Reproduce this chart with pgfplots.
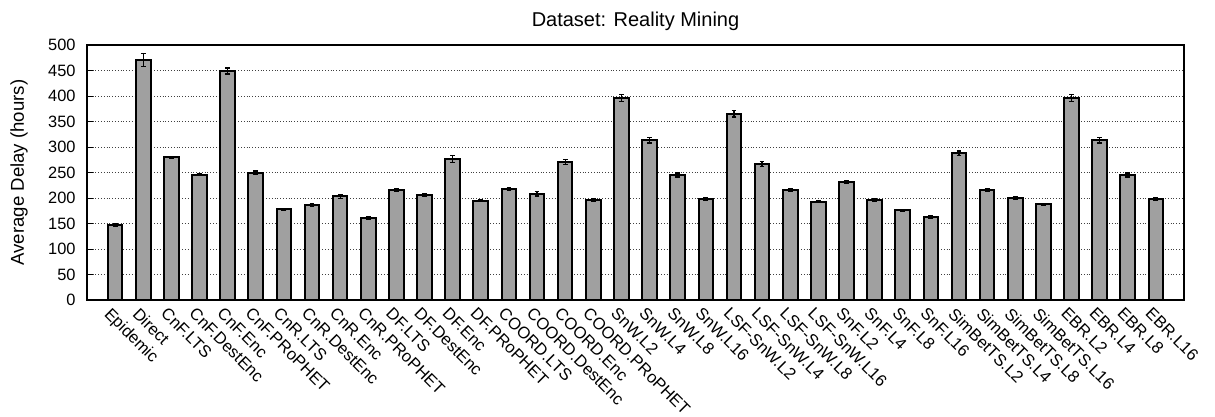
\documentclass[border=0pt]{standalone}
\usepackage{fontspec}
\setmainfont{Liberation Sans}
\usepackage{pgfplots}
\usepackage{pgfplotstable}
\pgfplotsset{compat=1.18}
\usetikzlibrary{calc}
\definecolor{barfill}{RGB}{160,160,160}

% Average delay per routing scheme, with the half-width of its error bar
\pgfplotstableread{
idx name delay err
1 Epidemic 147 2
2 Direct 471 13
3 CnF.LTS 280 2
4 CnF.DestEnc 246 2
5 CnF.Enc 449 6
6 CnF.PRoPHET 250 3
7 CnR.LTS 178 2
8 CnR.DestEnc 186 3
9 CnR.Enc 203 4
10 CnR.PRoPHET 161 2
11 DF.LTS 215 3
12 DF.DestEnc 206 3
13 DF.Enc 277 7
14 DF.PRoPHET 195 2
15 COORD.LTS 218 3
16 COORD.DestEnc 208 4
17 COORD.Enc 271 5
18 COORD.PRoPHET 196 3
19 SnW.L2 396 7
20 SnW.L4 313 5
21 SnW.L8 245 4
22 SnW.L16 198 3
23 LSF-SnW.L2 365 6
24 LSF-SnW.L4 267 5
25 LSF-SnW.L8 215 3
26 LSF-SnW.L16 193 2
27 SnF.L2 231 3
28 SnF.L4 196 3
29 SnF.L8 176 2
30 SnF.L16 163 3
31 SimBetTS.L2 288 4
32 SimBetTS.L4 216 3
33 SimBetTS.L8 200 3
34 SimBetTS.L16 188 2
35 EBR.L2 396 7
36 EBR.L4 313 5
37 EBR.L8 245 4
38 EBR.L16 198 3
}\delaytable

\begin{document}
\begin{tikzpicture}
\begin{axis}[
  name=ax,
  scale only axis,
  width=548.5pt, height=127.5pt,
  xmin=0, xmax=39, ymin=0, ymax=500,
  ybar, bar width=0.52,
  ytick={0,50,...,500},
  xtick={1,...,38},
  xticklabels from table={\delaytable}{name},
  xtick style={draw=none},
  ytick pos=left,
  tick align=inside,
  major tick length=3pt,
  ytick style={black, line width=0.5pt},
  ymajorgrids,
  grid style={densely dotted, black!75, line width=0.5pt},
  axis line style={black, line width=0.7pt},
  /pgf/number format/assume math mode=true,
  yticklabel style={font=\fontsize{8.2}{10}\selectfont, anchor=east, inner sep=0pt, xshift=-5.5pt},
  xticklabel style={font=\fontsize{8.3}{10}\selectfont, xshift=-1.5pt, yshift=-3pt, rotate=-45, anchor=north west, inner sep=0pt},
  ylabel={Average Delay (hours)},
  ylabel style={font=\fontsize{9.3}{11}\selectfont, at={(axis description cs:-0.062,0.5)}, anchor=center},
  every axis title shift=0pt,
  title={Dataset: Reality Mining},
  title style={font=\fontsize{10}{12}\selectfont, at={(axis description cs:0.5,1.0745)}, anchor=base},
]
\addplot[fill=barfill, draw=black, line width=1pt,
  error bars/.cd, y dir=both, y explicit,
  error bar style={line width=0.6pt, black},
  error mark options={rotate=90, mark size=1.2pt, line width=0.6pt}]
  table[x=idx, y=delay, y error=err] {\delaytable};
\end{axis}
\pgfresetboundingbox
\path ($(ax.south west)+(-43.5pt,-58.5pt)$) rectangle ($(ax.north east)+(15.5pt,22.5pt)$);
\end{tikzpicture}
\end{document}
